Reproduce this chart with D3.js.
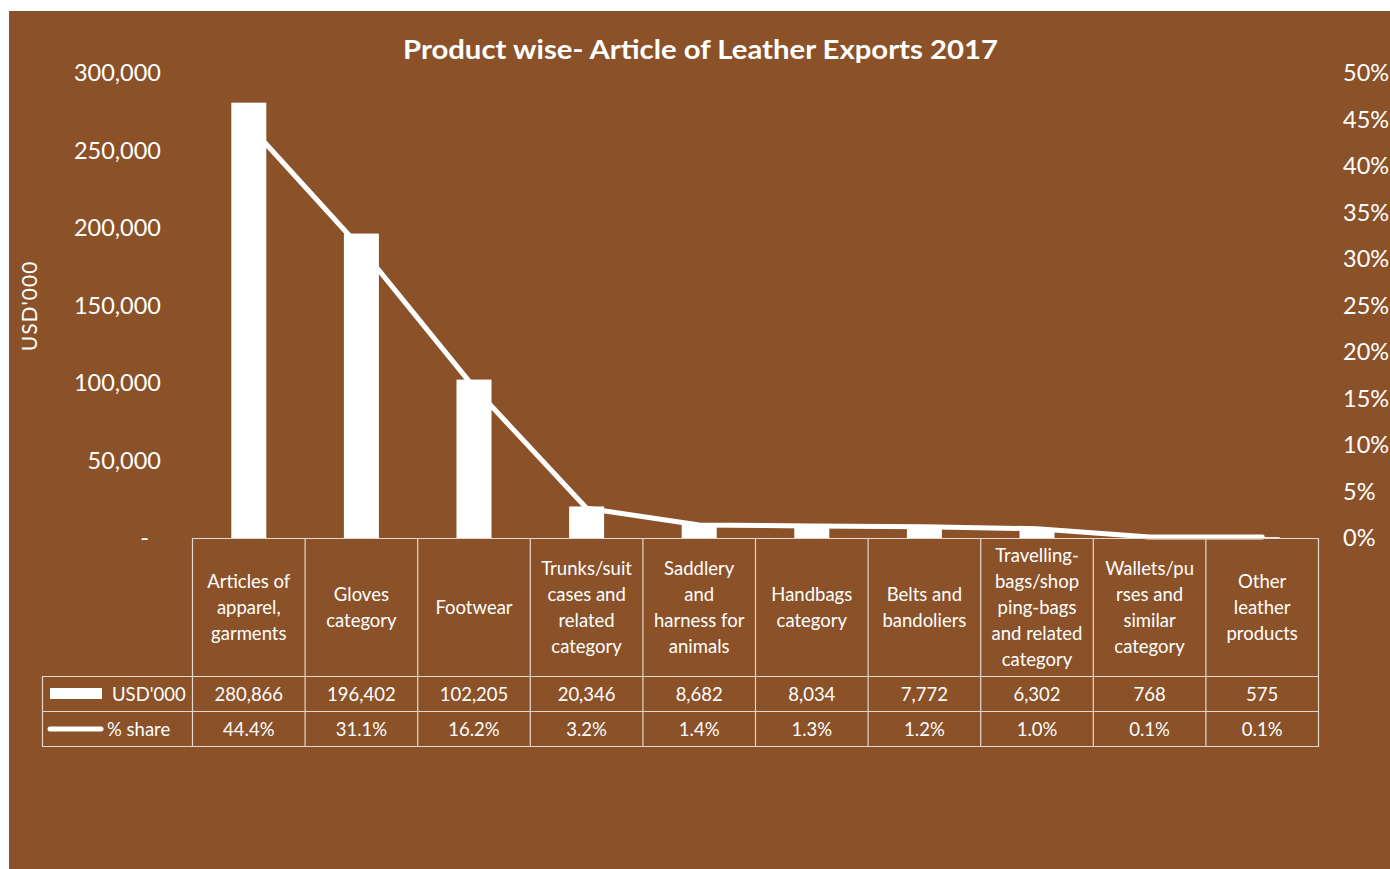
<!DOCTYPE html>
<html>
<head>
<meta charset="utf-8">
<script src="https://cdn.jsdelivr.net/npm/d3@7"></script>
<style>
  html, body { margin: 0; padding: 0; background: #ffffff; }
  svg { display: block; }
  text { font-family: Lato, "Noto Sans", sans-serif; fill: #ffffff; }
</style>
</head>
<body>
<svg id="chart" width="1390" height="869"></svg>
<script>
// Product-wise leather article exports, 2017
const categories = [
  "Articles of apparel, garments",
  "Gloves category",
  "Footwear",
  "Trunks/suit cases and related category",
  "Saddlery and harness for animals",
  "Handbags category",
  "Belts and bandoliers",
  "Travelling-bags/shopping-bags and related category",
  "Wallets/purses and similar category",
  "Other leather products"
];
// Category labels as they wrap inside the data-table header cells
const categoryLines = [
  ["Articles of", "apparel,", "garments"],
  ["Gloves", "category"],
  ["Footwear"],
  ["Trunks/suit", "cases and", "related", "category"],
  ["Saddlery", "and", "harness for", "animals"],
  ["Handbags", "category"],
  ["Belts and", "bandoliers"],
  ["Travelling-", "bags/shop", "ping-bags", "and related", "category"],
  ["Wallets/pu", "rses and", "similar", "category"],
  ["Other", "leather", "products"]
];
const usdValues = [280866, 196402, 102205, 20346, 8682, 8034, 7772, 6302, 768, 575];
const shareValues = [44.4, 31.1, 16.2, 3.2, 1.4, 1.3, 1.2, 1.0, 0.1, 0.1];
const leftTicks = [0, 50000, 100000, 150000, 200000, 250000, 300000];
const rightTicks = [0, 0.05, 0.10, 0.15, 0.20, 0.25, 0.30, 0.35, 0.40, 0.45, 0.50];

const svg = d3.select("#chart");
const bg = "#8b5229";
const gridColor = "#e3d6cc";

// background panel
svg.append("rect").attr("x", 9).attr("y", 11).attr("width", 1381).attr("height", 858).attr("fill", bg);

// scales
const x = d3.scaleBand().domain(categories).range([192.5, 1318.5]);
const yL = d3.scaleLinear().domain([0, 300000]).range([538, 73]);
const yR = d3.scaleLinear().domain([0, 0.5]).range([538, 73]);
const barW = 35;

// title
svg.append("text")
  .attr("x", 403).attr("y", 52)
  .attr("dominant-baseline", "middle")
  .attr("textLength", 595).attr("lengthAdjust", "spacingAndGlyphs")
  .style("font-size", "27px").style("font-weight", "bold")
  .text("Product wise- Article of Leather Exports 2017");

// left axis
const leftAxis = d3.axisLeft(yL)
  .tickValues(leftTicks).tickSize(0).tickPadding(0)
  .tickFormat(d => d === 0 ? "-" : d3.format(",")(d));
const gL = svg.append("g").attr("transform", "translate(161,0)").call(leftAxis);
gL.select(".domain").remove();
gL.selectAll("text").style("font-size", "23.5px").style("font-family", "Lato, 'Noto Sans', sans-serif").attr("fill", "#fff");
gL.selectAll(".tick").filter(d => d === 0).select("text").attr("dx", "-12px");

// right axis
const rightAxis = d3.axisRight(yR)
  .tickValues(rightTicks).tickSize(0).tickPadding(0)
  .tickFormat(d3.format(".0%"));
const gR = svg.append("g").attr("transform", "translate(1343,0)").call(rightAxis);
gR.select(".domain").remove();
gR.selectAll("text").style("font-size", "23.5px").style("font-family", "Lato, 'Noto Sans', sans-serif").attr("fill", "#fff");

// y-axis title
svg.append("text")
  .attr("transform", "translate(32,306) rotate(-90)")
  .attr("text-anchor", "middle").attr("dominant-baseline", "middle")
  .style("font-size", "21px").style("letter-spacing", "1px")
  .text("USD'000");

// bars
svg.append("g").selectAll("rect")
  .data(usdValues)
  .join("rect")
  .attr("x", (d, i) => x(categories[i]) + x.bandwidth() / 2 - barW / 2)
  .attr("y", d => yL(d))
  .attr("width", barW)
  .attr("height", d => yL(0) - yL(d))
  .attr("fill", "#ffffff");

// share line
const line = d3.line()
  .x((d, i) => x(categories[i]) + x.bandwidth() / 2)
  .y(d => yR(d / 100));
svg.append("path")
  .datum(shareValues)
  .attr("d", line)
  .attr("fill", "none")
  .attr("stroke", "#ffffff")
  .attr("stroke-width", 5)
  .attr("stroke-linecap", "round")
  .attr("stroke-linejoin", "round");

// data table
const tableTop = 538, headBottom = 676, row1Bottom = 711, row2Bottom = 746;
const tableLeft = 42.5, plotLeft = 192.5, plotRight = 1318.5;
const tg = svg.append("g").attr("stroke", gridColor).attr("stroke-width", 1.2).attr("fill", "none");
tg.append("line").attr("x1", plotLeft).attr("x2", plotRight).attr("y1", tableTop + 0.5).attr("y2", tableTop + 0.5);
[headBottom, row1Bottom, row2Bottom].forEach(yv => {
  tg.append("line").attr("x1", tableLeft).attr("x2", plotRight).attr("y1", yv + 0.5).attr("y2", yv + 0.5);
});
tg.append("line").attr("x1", tableLeft).attr("x2", tableLeft).attr("y1", headBottom).attr("y2", row2Bottom + 1);
const bounds = categories.map(c => x(c)).concat([plotRight]);
bounds.forEach(bx => {
  tg.append("line").attr("x1", bx).attr("x2", bx).attr("y1", tableTop).attr("y2", row2Bottom + 1);
});

// header labels
const lineH = 26;
const headMid = (tableTop + headBottom) / 2 + 1;
categoryLines.forEach((lines, i) => {
  const cx = x(categories[i]) + x.bandwidth() / 2;
  const t = svg.append("text")
    .attr("text-anchor", "middle")
    .style("font-size", "18.5px");
  lines.forEach((s, j) => {
    t.append("tspan")
      .attr("x", cx)
      .attr("y", headMid + (j - (lines.length - 1) / 2) * lineH)
      .attr("dy", "0.35em")
      .text(s);
  });
});

// value rows
const row1Mid = (headBottom + row1Bottom) / 2 + 1;
const row2Mid = (row1Bottom + row2Bottom) / 2 + 1;
svg.append("g").selectAll("text")
  .data(usdValues).join("text")
  .attr("x", (d, i) => x(categories[i]) + x.bandwidth() / 2)
  .attr("y", row1Mid).attr("dy", "0.35em")
  .attr("text-anchor", "middle").style("font-size", "18.5px")
  .text(d => d3.format(",")(d));
svg.append("g").selectAll("text")
  .data(shareValues).join("text")
  .attr("x", (d, i) => x(categories[i]) + x.bandwidth() / 2)
  .attr("y", row2Mid).attr("dy", "0.35em")
  .attr("text-anchor", "middle").style("font-size", "18.5px")
  .text(d => d.toFixed(1) + "%");

// legend keys in the row headers
svg.append("rect").attr("x", 50).attr("y", 688).attr("width", 52).attr("height", 11).attr("fill", "#fff");
svg.append("text").attr("x", 112).attr("y", row1Mid).attr("dy", "0.35em").style("font-size", "18.5px").text("USD'000");
svg.append("line").attr("x1", 50).attr("x2", 101).attr("y1", 729).attr("y2", 729)
  .attr("stroke", "#fff").attr("stroke-width", 5).attr("stroke-linecap", "round");
svg.append("text").attr("x", 107).attr("y", row2Mid).attr("dy", "0.35em").style("font-size", "18.5px").text("% share");
</script>
</body>
</html>
